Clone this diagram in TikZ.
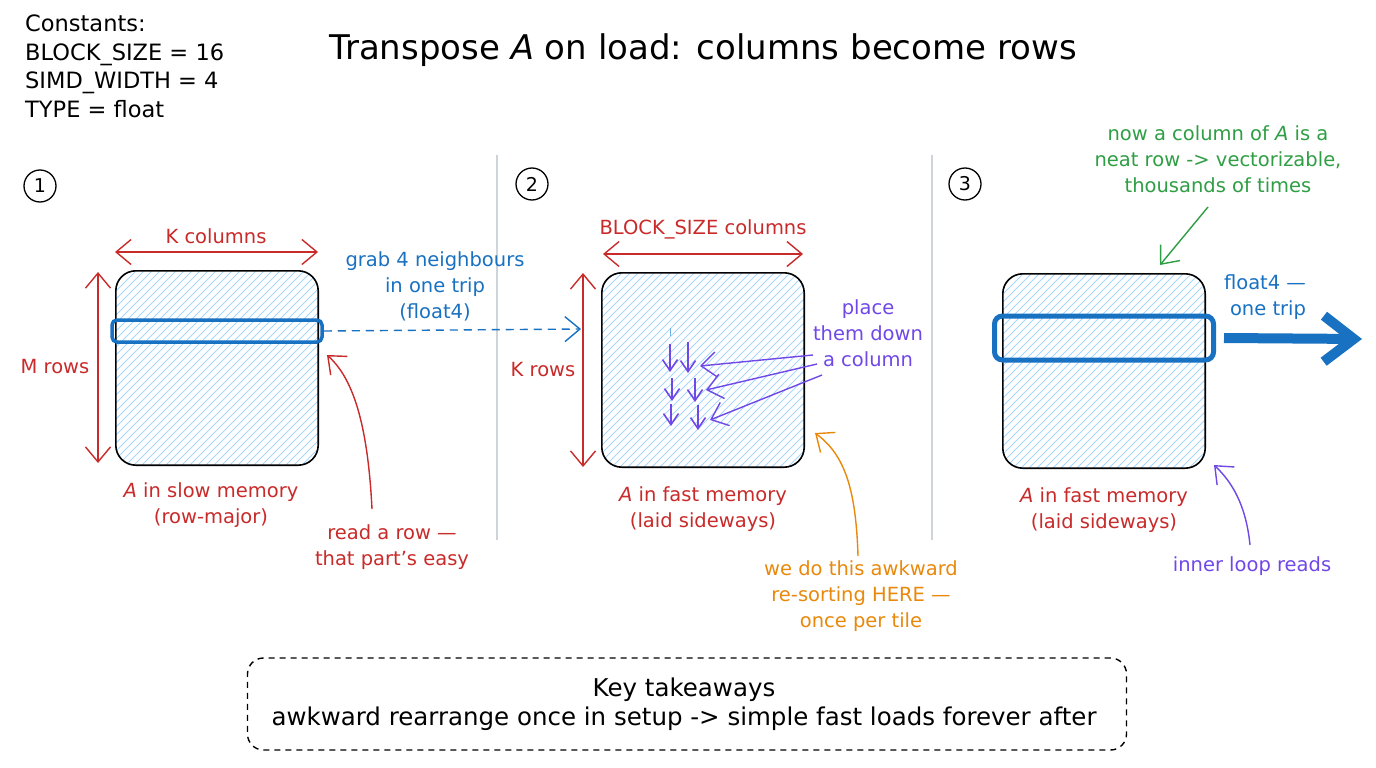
\documentclass[tikz,border=0pt]{standalone}
\usepackage{fontspec}
\setmainfont{DejaVu Sans}
\usetikzlibrary{arrows.meta}
\definecolor{exred}{HTML}{C92A2A}
\definecolor{exblue}{HTML}{1971C2}
\definecolor{exgreen}{HTML}{2F9E44}
\definecolor{exorange}{HTML}{E8890C}
\definecolor{expurple}{HTML}{7048E8}
\definecolor{hatchc}{HTML}{A5D8FF}
\definecolor{sepc}{HTML}{CED4DA}
\tikzset{
  lbl/.style={font=\fontsize{19.5}{26}\selectfont, align=center, inner sep=0pt},
  matbox/.style={inner sep=0pt, minimum width=202pt, minimum height=194pt},
  border/.style={draw=black, line width=1.6pt, rounded corners=20pt},
  hatchline/.style={draw=hatchc, line width=0.8pt},
  rowbox/.style={draw=exblue, line width=3.5pt, rounded corners=5pt, inner sep=0pt},
  barb/.style={-{Straight Barb[length=15pt,width=25pt]}, line width=1.4pt},
  dbarb/.style={{Straight Barb[length=15pt,width=25pt]}-{Straight Barb[length=15pt,width=25pt]}, line width=1.4pt},
  sep/.style={draw=sepc, line width=1.5pt},
  numc/.style={draw=black, circle, line width=1.3pt, minimum size=32pt, inner sep=0pt, font=\fontsize{19}{22}\selectfont},
  small/.style={-{Straight Barb[length=11pt,width=15pt]}, line width=1.6pt, draw=expurple}
}
\newcommand{\hatchit}[1]{%
  \begin{scope}
    \clip[rounded corners=20pt] (#1.south west) rectangle (#1.north east);
    \foreach \s in {-230,-222,...,230}
      \draw[hatchline] ([xshift=\s pt]#1.south west) -- ++(240,-240);
  \end{scope}
  \draw[border] (#1.south west) rectangle (#1.north east);}
\begin{document}
\begin{tikzpicture}[x=1pt,y=-1pt]
\useasboundingbox (0,0) rectangle (1376,768);
\fill[white] (0,0) rectangle (1376,768);

% constants
\node[anchor=north west, align=left, inner sep=0pt, font=\fontsize{22.5}{28.5}\selectfont] (const) at (25,15)
  {Constants:\\BLOCK\_SIZE = 16\\SIMD\_WIDTH = 4\\TYPE = float};
% title
\node[inner sep=0pt, font=\fontsize{34}{38}\selectfont] (title) at (703,50) {Transpose \textit{A} on load: columns become rows};

% separators
\draw[sep] (497,155) -- (497,540);
\draw[sep] (932,155) -- (932,540);

% numbers
\node[numc] (n1) at (40,186) {1};
\node[numc] (n2) at (532,184) {2};
\node[numc] (n3) at (965,184) {3};

% ---------- panel 1
\node[matbox] (b1) at (217,368) {};
\hatchit{b1}
\node[rowbox, minimum width=210pt, minimum height=22pt] (r1) at (217,331) {};
\coordinate (kc1l) at (115,252); \coordinate (kc1r) at (318,252);
\draw[dbarb, exred] (kc1l) -- (kc1r);
\node[lbl, text=exred] (kcol) at (216,236) {K columns};
\coordinate (mr1t) at (98,272); \coordinate (mr1b) at (98,463);
\draw[dbarb, exred] (mr1t) -- (mr1b);
\node[lbl, text=exred] (mrows) at (55,367) {M rows};
\node[lbl, text=exred] (cap1) at (211,505) {\textit{A} in slow memory\\(row-major)};
\node[lbl, text=exblue] (grab) at (435,286) {grab 4 neighbours\\in one trip\\(float4)};
\coordinate (dashend) at (581,329);
\draw[barb, exblue, dashed, dash pattern=on 8pt off 6pt] (r1.east) -- (dashend);
\node[lbl, text=exred] (read) at (392,547) {read a row —\\that part’s easy};
\coordinate (readtip) at (327,355);
\draw[barb, exred] (372,509) .. controls (368,430) and (355,380) .. (readtip);

% ---------- panel 2
\node[matbox] (b2) at (703,370) {};
\hatchit{b2}
\coordinate (bsl) at (603,254); \coordinate (bsr) at (803,254);
\draw[dbarb, exred] (bsl) -- (bsr);
\node[lbl, text=exred] (bscol) at (703,229) {BLOCK\_SIZE columns};
\coordinate (kr2t) at (583,273); \coordinate (kr2b) at (583,467);
\draw[dbarb, exred] (kr2t) -- (kr2b);
\node[lbl, text=exred] (krows) at (543,370) {K rows};
\node[lbl, text=exred] (cap2) at (703,509) {\textit{A} in fast memory\\(laid sideways)};
% small placed arrows
\draw[hatchc!60!exblue, line width=0.8pt] (670,328) -- (670,336);
\coordinate (a1s) at (670,344); \coordinate (a1e) at (670,372);
\coordinate (a2s) at (672,378); \coordinate (a2e) at (672,401);
\coordinate (a3s) at (671,404); \coordinate (a3e) at (671,426);
\coordinate (a4s) at (688,342); \coordinate (a4e) at (688,373);
\coordinate (a5s) at (695,378); \coordinate (a5e) at (695,402);
\coordinate (a6s) at (698,405); \coordinate (a6e) at (698,430);
\foreach \i in {1,...,6} \draw[small] (a\i s) -- (a\i e);
\node[lbl, text=expurple] (place) at (868,333) {place\\them down\\a column};
\coordinate (p1) at (700,366); \coordinate (p2) at (706,390); \coordinate (p3) at (710,420);
\draw[barb, expurple] (813,355) -- (p1);
\draw[barb, expurple] (817,364) -- (p2);
\draw[barb, expurple] (822,375) -- (p3);
\node[lbl, text=exorange] (awk) at (861,596) {we do this awkward\\re-sorting HERE —\\once per tile};
\coordinate (awktip) at (815,433);
\draw[barb, exorange] (858,556) .. controls (856,490) and (845,455) .. (awktip);

% ---------- panel 3
\node[matbox] (b3) at (1104,371) {};
\hatchit{b3}
\node[rowbox, line width=5pt, rounded corners=8pt, minimum width=219pt, minimum height=44pt] (r3) at (1104,338) {};
\coordinate (bigend) at (1362,339);
\draw[exblue, line width=10pt, -{Straight Barb[length=30pt,width=46pt]}] ([xshift=8pt]r3.east) -- (bigend);
\node[lbl, text=exblue] (f4) at (1265,297) {float4 —\\\hspace*{6pt}one trip};
\node[lbl, text=exgreen] (neat) at (1218,159) {now a column of \textit{A} is a\\neat row -> vectorizable,\\thousands of times};
\coordinate (neattip) at (1160,265);
\draw[barb, exgreen] (1208,207) -- (neattip);
\node[lbl, text=exred] (cap3) at (1104,510) {\textit{A} in fast memory\\(laid sideways)};
\node[lbl, text=expurple] (inner) at (1252,566) {inner loop reads};
\coordinate (innertip) at (1214,465);
\draw[barb, expurple] (1250,545) .. controls (1246,505) and (1232,482) .. (innertip);

% ---------- takeaways
\node[draw=black, dashed, dash pattern=on 6pt off 5pt, line width=1.4pt, rounded corners=16pt,
  minimum width=879pt, minimum height=92pt, inner sep=0pt] (take) at (687,704) {};
\node[lbl, font=\fontsize{24.5}{29}\selectfont, text=black] (taketxt) at (684,704)
  {Key takeaways\\awkward rearrange once in setup -> simple fast loads forever after};
\end{tikzpicture}
\end{document}
